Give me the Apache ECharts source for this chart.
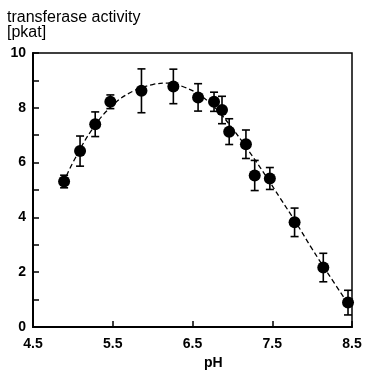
<!DOCTYPE html>
<html>
<head>
<meta charset="utf-8">
<script src="https://cdn.jsdelivr.net/npm/echarts@6/dist/echarts.min.js"></script>
<style>
  html, body { margin: 0; padding: 0; background: #fff; }
  #chart { width: 366px; height: 374px; }
</style>
</head>
<body>
<div id="chart"></div>
<script>
// measured points (pH, activity) and +/- error
const phValues = [4.89, 5.09, 5.28, 5.47, 5.86, 6.26, 6.57, 6.77, 6.87, 6.96, 7.17, 7.28, 7.47, 7.78, 8.14, 8.45];
const activity = [5.31, 6.42, 7.4, 8.22, 8.62, 8.78, 8.38, 8.22, 7.92, 7.13, 6.67, 5.53, 5.42, 3.82, 2.17, 0.89];
const errors = [0.23, 0.55, 0.45, 0.25, 0.8, 0.63, 0.5, 0.35, 0.5, 0.47, 0.52, 0.55, 0.4, 0.52, 0.52, 0.45];

// dashed fit curve
const curvePh = [4.88, 5.0, 5.25, 5.5, 5.75, 6.0, 6.2, 6.4, 6.6, 6.8, 7.0, 7.2, 7.4, 7.6, 7.8, 8.0, 8.2, 8.45];
const curveVal = [5.25, 6.0, 7.25, 8.1, 8.6, 8.85, 8.9, 8.75, 8.45, 7.95, 7.25, 6.45, 5.6, 4.7, 3.8, 2.85, 1.95, 0.85];

const xTicks = ["4.5", "5.5", "6.5", "7.5", "8.5"];

const chart = echarts.init(document.getElementById("chart"));

const points = phValues.map((p, i) => [p, activity[i]]);
const bars = phValues.map((p, i) => [p, activity[i] - errors[i], activity[i] + errors[i]]);
const curve = curvePh.map((p, i) => [p, curveVal[i]]);

const labelFont = {
  color: "#000",
  fontFamily: "Liberation Sans, Arial, sans-serif",
  fontSize: 14,
  fontWeight: "bold",
};

chart.setOption({
  animation: false,
  graphic: [
    {
      type: "text",
      left: 7,
      top: 10,
      style: {
        text: "transferase activity\n[pkat]",
        fill: "#000",
        font: "16px Liberation Sans, Arial, sans-serif",
        lineHeight: 15,
      },
    },
    {
      type: "text",
      left: 204,
      top: 356,
      style: {
        text: "pH",
        fill: "#000",
        font: "bold 14px Liberation Sans, Arial, sans-serif",
      },
    },
  ],
  grid: {
    left: 33,
    right: 14,
    top: 53,
    bottom: 47,
    show: true,
    borderColor: "#000",
    borderWidth: 1.5,
  },
  xAxis: {
    type: "value",
    min: 4.5,
    max: 8.5,
    interval: 1,
    splitLine: { show: false },
    axisLine: { lineStyle: { color: "#000", width: 2 } },
    axisTick: { inside: true, length: 6, lineStyle: { color: "#000", width: 1.5 } },
    axisLabel: Object.assign({ margin: 10, formatter: (v) => xTicks.find((t) => Math.abs(+t - v) < 1e-6) || "" }, labelFont),
  },
  yAxis: {
    type: "value",
    min: 0,
    max: 10,
    interval: 2,
    splitLine: { show: false },
    axisLine: { lineStyle: { color: "#000", width: 2 } },
    axisTick: { inside: true, length: 6, lineStyle: { color: "#000", width: 1.5 } },
    minorTick: { show: true, splitNumber: 2, length: 6, lineStyle: { color: "#000", width: 1.5 } },
    axisLabel: Object.assign({ margin: 7 }, labelFont),
  },
  series: [
    {
      type: "line",
      data: curve,
      smooth: 0.4,
      showSymbol: false,
      lineStyle: { color: "#000", width: 1.3, type: [5, 3] },
      z: 1,
    },
    {
      type: "custom",
      data: bars,
      renderItem: (params, api) => {
        const x = api.value(0);
        const lo = api.coord([x, api.value(1)]);
        const hi = api.coord([x, api.value(2)]);
        const w = 4;
        const style = { stroke: "#000", lineWidth: 1.6 };
        return {
          type: "group",
          children: [
            { type: "line", shape: { x1: lo[0], y1: lo[1], x2: hi[0], y2: hi[1] }, style },
            { type: "line", shape: { x1: lo[0] - w, y1: lo[1], x2: lo[0] + w, y2: lo[1] }, style },
            { type: "line", shape: { x1: hi[0] - w, y1: hi[1], x2: hi[0] + w, y2: hi[1] }, style },
          ],
        };
      },
      z: 2,
    },
    {
      type: "scatter",
      data: points,
      symbol: "circle",
      symbolSize: 12,
      itemStyle: { color: "#000", opacity: 1 },
      z: 3,
    },
  ],
});
</script>
</body>
</html>
